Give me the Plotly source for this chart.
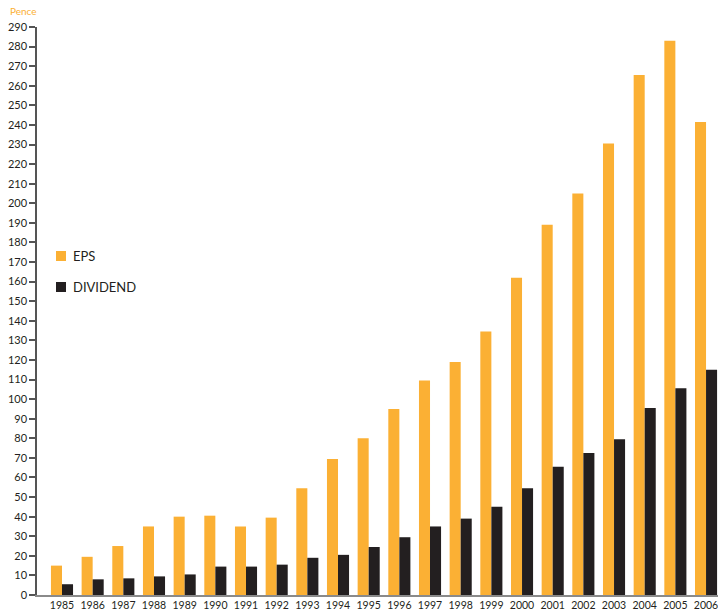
import plotly.graph_objects as go

years = list(range(1985, 2007))
eps = [15, 19.5, 25, 35, 40, 40.5, 35, 39.5, 54.5, 69.5, 80, 95, 109.5, 119, 134.5,
       162, 189, 205, 230.5, 265.5, 283, 241.5]
dividend = [5.5, 8, 8.5, 9.5, 10.5, 14.5, 14.5, 15.5, 19, 20.5, 24.5, 29.5, 35, 39,
            45, 54.5, 65.5, 72.5, 79.5, 95.5, 105.5, 115]
y_ticks = list(range(0, 291, 10))
series_names = ["EPS", "DIVIDEND"]

ORANGE = "#FBB034"
DARK = "#231F20"
FONT = "Lato"

L, T, W, H = 37, 27, 681, 568  # plot area in px


def px_x(x):
    return (x - L) / W


def px_y(y):
    return (T + H - y) / H


fig = go.Figure()
fig.add_trace(go.Bar(x=years, y=eps, name=series_names[0], marker=dict(color=ORANGE, line_width=0)))
fig.add_trace(go.Bar(x=years, y=dividend, name=series_names[1], marker=dict(color=DARK, line_width=0)))

shapes = []
annotations = [dict(text="Pence", x=px_x(8), y=px_y(11), xref="paper", yref="paper",
                    xanchor="left", yanchor="middle", showarrow=False,
                    font=dict(size=10, color=ORANGE, family=FONT))]
for name, col, cy in [(series_names[0], ORANGE, 256), (series_names[1], DARK, 287)]:
    shapes.append(dict(type="rect", xref="paper", yref="paper",
                       x0=px_x(56), x1=px_x(66), y0=px_y(cy - 5), y1=px_y(cy + 5),
                       fillcolor=col, line_width=0))
    annotations.append(dict(text=name, x=px_x(71), y=px_y(cy), xref="paper", yref="paper",
                            xanchor="left", yanchor="middle", showarrow=False,
                            font=dict(size=13, color=DARK, family=FONT)))

fig.update_layout(
    width=718, height=612,
    margin=dict(l=L, r=0, t=T, b=612 - T - H),
    paper_bgcolor="white", plot_bgcolor="white",
    barmode="group", bargap=0.28, bargroupgap=0,
    showlegend=False,
    font=dict(family=FONT, color=DARK, size=11),
    xaxis=dict(range=[1984.185, 2006.39], tickvals=years, ticktext=[str(y) for y in years],
               showgrid=False, zeroline=False, showline=True, linecolor="#8a8a8a", linewidth=1.5,
               ticks="", tickfont=dict(size=10.5, color=DARK), automargin=False,
               ticklabeloverflow="allow", fixedrange=True),
    yaxis=dict(range=[0, 290], tickvals=y_ticks, showgrid=False, zeroline=False,
               showline=True, linecolor="#555555", linewidth=1.5,
               ticks="outside", ticklen=6, tickwidth=1.5, tickcolor="#555555",
               tickfont=dict(size=11, color=DARK), automargin=False, fixedrange=True),
    shapes=shapes,
    annotations=annotations,
)

fig.write_html("out.html")
